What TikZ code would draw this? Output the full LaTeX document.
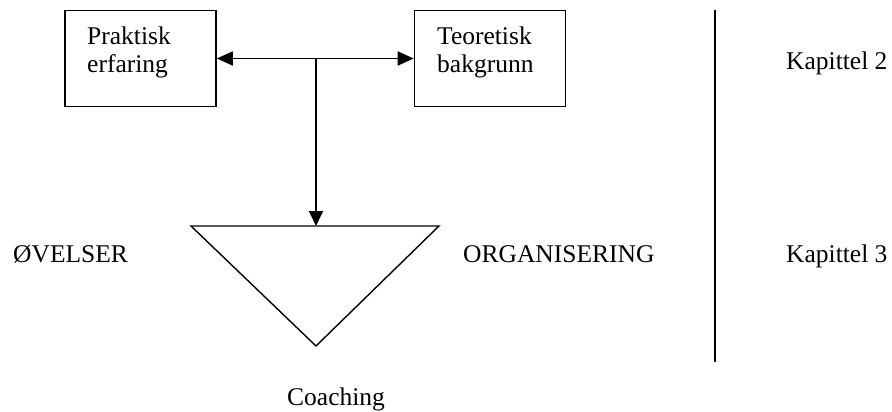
\documentclass[tikz,border=0pt]{standalone}
\usepackage{fontspec}
\setmainfont{Liberation Serif}
\usetikzlibrary{arrows.meta}
\begin{document}
\begin{tikzpicture}[x=1pt,y=-1pt,
  lbl/.style={inner sep=0pt,anchor=base west,font=\fontsize{25.5}{30}\selectfont},
  boxst/.style={draw,line width=1.6pt,minimum width=151pt,minimum height=96pt,inner sep=0pt},
  arr/.style={line width=1.8pt,-{Triangle[length=15pt,width=14pt]}},
  darr/.style={line width=1.8pt,{Triangle[length=16pt,width=14pt]}-{Triangle[length=16pt,width=14pt]}}]
\useasboundingbox (0,0) rectangle (892,412);
% boxes
\node[boxst] (pe) at (140.5,58.5) {};
\node[boxst] (tb) at (490,58.5) {};
\node[lbl] (pe1) at (87,45) {Praktisk};
\node[lbl] (pe2) at (87,73) {erfaring};
\node[lbl] (tb1) at (437,45) {Teoretisk};
\node[lbl] (tb2) at (437,73) {bakgrunn};
% connectors
\coordinate (mid) at (316,58.5);
\coordinate (ttop) at (316,226);
\draw[darr] (pe.east) -- (tb.west);
\draw[arr] (mid) -- (ttop);
% triangle
\coordinate (tl) at (191,226);
\coordinate (tr) at (439,226);
\coordinate (tbm) at (316,346);
\draw[line width=1.4pt,line join=miter] (tl) -- (tr) -- (tbm) -- cycle;
% side labels
\node[lbl] (ov) at (13,262) {ØVELSER};
\node[lbl] (org) at (463,262) {ORGANISERING};
\node[lbl] (coa) at (287,405) {Coaching};
% divider
\coordinate (d1) at (715,10);
\coordinate (d2) at (715,362);
\draw[line width=1.9pt] (d1) -- (d2);
\node[lbl] (k2) at (786,70) {Kapittel 2};
\node[lbl] (k3) at (786,262) {Kapittel 3};
\end{tikzpicture}
\end{document}
